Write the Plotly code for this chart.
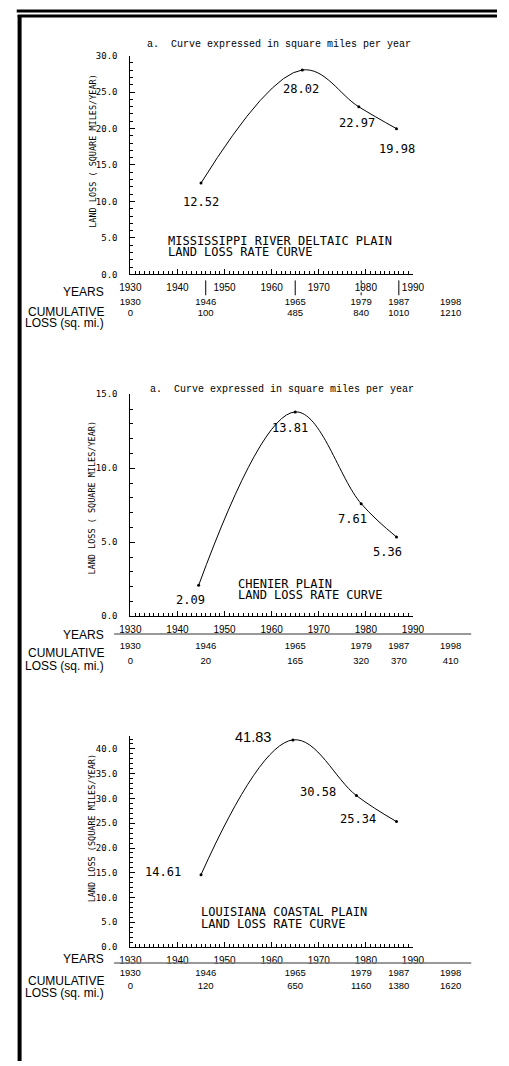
import plotly.graph_objects as go

W, H = 509, 1066

# ---------------- data ----------------
delta_years = [1945, 1966.5, 1978.5, 1986.5]
delta_rate = [12.52, 28.02, 22.97, 19.98]

chenier_years = [1944.5, 1965, 1979, 1986.5]
chenier_rate = [2.09, 13.81, 7.61, 5.36]

coastal_years = [1945, 1964.5, 1978, 1986.5]
coastal_rate = [14.61, 41.83, 30.58, 25.34]

axis_years = [1930, 1940, 1950, 1960, 1970, 1980, 1990]
cum_years = [1930, 1946, 1965, 1979, 1987, 1998]
delta_cum = [0, 100, 485, 840, 1010, 1210]
chenier_cum = [0, 20, 165, 320, 370, 410]
coastal_cum = [0, 120, 650, 1160, 1380, 1620]

delta_title = ["MISSISSIPPI RIVER DELTAIC PLAIN", "LAND LOSS RATE CURVE"]
chenier_title = ["CHENIER PLAIN", "LAND LOSS RATE CURVE"]
coastal_title = ["LOUISIANA COASTAL PLAIN", "LAND LOSS RATE CURVE"]
caption_text = "a.\u00a0\u00a0Curve expressed in square miles per year"
ytitle_a = "LAND LOSS ( SQUARE MILES/YEAR)"
ytitle_b = "LAND LOSS (SQUARE MILES/YEAR)"
row_labels = ["YEARS", "CUMULATIVE", "LOSS (sq. mi.)"]

# ---------------- layout helpers ----------------
def px(x):
    return x / W

def py(y):
    return 1 - y / H

MONO = "DejaVu Sans Mono"
TYPE = "Liberation Mono"
SANS = "Liberation Sans, Arial"

panels = [
    dict(x=delta_years, y=delta_rate, cum=delta_cum, title=delta_title, ytitle=ytitle_a,
         ymax=30, dmaj=5, top=51, bot=272, caption=(281, 40), title_pos=(162, 238, 249),
         ytitle_y=147, shifts=[(0, -19), (-1, -19), (-2, -16), (1, -20)],
         lab_fonts=[(MONO, 12)] * 4,
         row_years=300, row_cum=312, lbl=(290, 310, 321), rule=None, bars=(278, 293)),
    dict(x=chenier_years, y=chenier_rate, cum=chenier_cum, title=chenier_title, ytitle=ytitle_a,
         ymax=15, dmaj=5, top=393, bot=617, caption=(284, 388), title_pos=(236, 584, 596),
         ytitle_y=497, shifts=[(-8, -15), (-5, -16), (-9, -15), (-9, -15)],
         lab_fonts=[(MONO, 12)] * 4,
         row_years=648, row_cum=663, lbl=(636, 654, 667), rule=635, bars=None),
    dict(x=coastal_years, y=coastal_rate, cum=coastal_cum, title=coastal_title, ytitle=ytitle_b,
         ymax=42.6, dmaj=5, top=738, bot=951, caption=None, title_pos=(197, 916, 928),
         ytitle_y=831, shifts=[(-38, 3), (-40, 3), (-38, 4), (-38, 3)],
         lab_fonts=[(MONO, 12), (SANS, 14.5), (MONO, 12), (MONO, 12)],
         row_years=978, row_cum=991, lbl=(963, 985, 997), rule=967, bars=None),
]

X_LEFT, X_RIGHT = 125, 421
YEAR0, YEAR1 = 1930, 1990
k = (X_RIGHT - X_LEFT) / (YEAR1 - YEAR0)  # pixels per year

fig = go.Figure()
annotations = []
shapes = []

# page-wide overlay axes used for the cumulative-loss tables (same year scale)
fig.update_layout(
    xaxis4=dict(domain=[0, 1], range=[YEAR0 - X_LEFT / k, YEAR0 + (W - X_LEFT) / k],
                visible=False, fixedrange=True, anchor="y4"),
    yaxis4=dict(domain=[0, 1], range=[H, 0], visible=False, fixedrange=True, anchor="x4"),
)

for i, p in enumerate(panels):
    n = "" if i == 0 else str(i + 1)
    xa, ya = "x" + n, "y" + n

    # curve
    fig.add_trace(go.Scatter(
        x=p["x"], y=p["y"], mode="lines+markers", xaxis=xa, yaxis=ya,
        line=dict(color="black", width=1, shape="spline", smoothing=1.1),
        marker=dict(color="black", size=3), hoverinfo="skip", showlegend=False))

    # table rows
    fig.add_trace(go.Scatter(
        x=cum_years, y=[p["row_years"]] * len(cum_years), mode="text",
        text=[str(v) for v in cum_years], textposition="middle center",
        textfont=dict(family=SANS, size=9.5, color="black"),
        xaxis="x4", yaxis="y4", hoverinfo="skip", showlegend=False))
    fig.add_trace(go.Scatter(
        x=cum_years, y=[p["row_cum"]] * len(cum_years), mode="text",
        text=[str(v) for v in p["cum"]], textposition="middle center",
        textfont=dict(family=SANS, size=9.5, color="black"),
        xaxis="x4", yaxis="y4", hoverinfo="skip", showlegend=False))

    # value labels
    for xv, yv, (dx, dy), (fam, fs) in zip(p["x"], p["y"], p["shifts"], p["lab_fonts"]):
        annotations.append(dict(
            x=xv, y=yv, xref=xa, yref=ya, text=f"{yv:.2f}", showarrow=False,
            xshift=dx, yshift=dy, font=dict(family=fam, size=fs, color="black")))

    # region titles
    tx, ty1, ty2 = p["title_pos"]
    for line_text, ty in zip(p["title"], (ty1, ty2)):
        annotations.append(dict(
            x=px(tx), y=py(ty), xref="paper", yref="paper", text=line_text,
            xanchor="left", yanchor="middle", showarrow=False,
            font=dict(family=MONO, size=12, color="black")))

    # caption
    if p["caption"]:
        cx, cy = p["caption"]
        annotations.append(dict(
            x=px(cx), y=py(cy), xref="paper", yref="paper", text=caption_text,
            xanchor="center", yanchor="middle", showarrow=False,
            font=dict(family=TYPE, size=10, color="black")))

    # y title
    annotations.append(dict(
        x=px(85), y=py(p["ytitle_y"]), xref="paper", yref="paper", text=p["ytitle"],
        textangle=-90, xanchor="center", yanchor="middle", showarrow=False,
        font=dict(family=MONO, size=8.5, color="black")))

    # left-hand row labels
    for txt, yy in zip(row_labels, p["lbl"]):
        annotations.append(dict(
            x=px(100), y=py(yy), xref="paper", yref="paper", text=txt,
            xanchor="right", yanchor="middle", showarrow=False,
            font=dict(family=SANS, size=12, color="black")))

    # rule under the year labels
    if p["rule"]:
        shapes.append(dict(type="line", xref="paper", yref="paper",
                           x0=px(108), x1=px(482), y0=py(p["rule"]), y1=py(p["rule"]),
                           line=dict(color="#777", width=1.5)))

    # separator bars between the year labels
    if p["bars"]:
        b0, b1 = p["bars"]
        for yr in cum_years[1:5]:
            shapes.append(dict(type="line", xref=xa, yref="paper",
                               x0=yr, x1=yr, y0=py(b0), y1=py(b1),
                               line=dict(color="black", width=1,
                                         dash="dot" if yr == 1979 else "solid")))

    # axes
    xkey = "xaxis" + n
    ykey = "yaxis" + n
    fig.update_layout(**{
        xkey: dict(domain=[px(X_LEFT), px(X_RIGHT)], range=[YEAR0, YEAR1], anchor=ya,
                   showgrid=False, zeroline=False, showline=True, linecolor="black", linewidth=1,
                   tickmode="array", tickvals=axis_years, ticktext=[str(v) for v in axis_years],
                   ticks="inside", ticklen=5, tickcolor="black", tickwidth=1,
                   ticklabelstandoff=4,
                   tickfont=dict(family=SANS, size=10, color="black"),
                   minor=dict(dtick=1, tick0=YEAR0, ticks="inside", ticklen=3,
                              tickcolor="black", showgrid=False),
                   fixedrange=True),
        ykey: dict(domain=[py(p["bot"]), py(p["top"])], range=[0, p["ymax"]], anchor=xa,
                   showgrid=False, zeroline=False, showline=True, linecolor="black", linewidth=1,
                   tickmode="linear", tick0=0, dtick=p["dmaj"], tickformat=".1f",
                   ticks="inside", ticklen=5, tickcolor="black", tickwidth=1,
                   ticklabelstandoff=10,
                   tickfont=dict(family=MONO, size=9, color="black"),
                   minor=dict(dtick=1, tick0=0, ticks="inside", ticklen=3,
                              tickcolor="black", showgrid=False),
                   fixedrange=True),
    })

# page frame
shapes += [
    dict(type="line", xref="paper", yref="paper", x0=px(6), x1=1, y0=py(6), y1=py(6),
         line=dict(color="black", width=3)),
    dict(type="line", xref="paper", yref="paper", x0=px(7), x1=1, y0=py(11), y1=py(11),
         line=dict(color="black", width=3)),
    dict(type="line", xref="paper", yref="paper", x0=px(9), x1=px(9), y0=py(10), y1=0,
         line=dict(color="black", width=4)),
]

fig.update_layout(
    width=W, height=H, margin=dict(l=0, r=0, t=0, b=0),
    paper_bgcolor="white", plot_bgcolor="rgba(0,0,0,0)",
    annotations=annotations, shapes=shapes, showlegend=False,
)

fig.write_html("out.html", config={"displayModeBar": False},
               post_script="document.body.style.margin='0';document.body.style.overflow='hidden';")
